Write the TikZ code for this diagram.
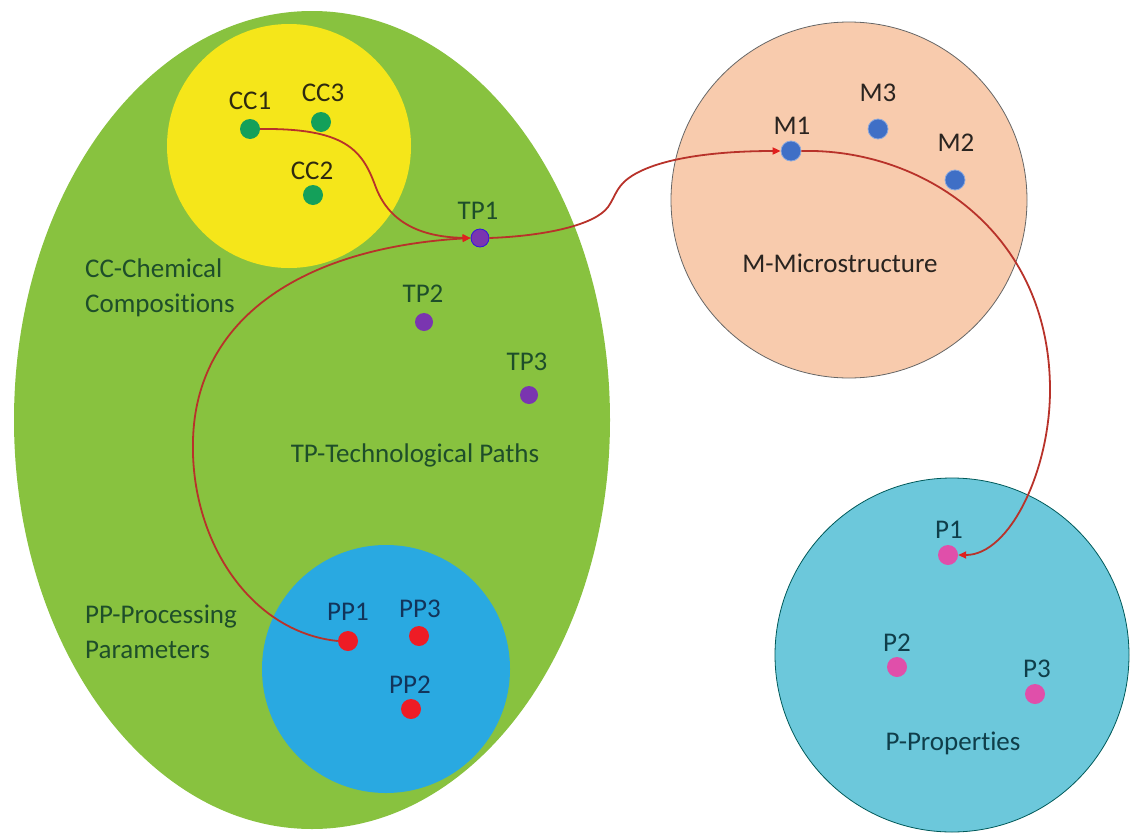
\documentclass[tikz,border=0pt]{standalone}
\usepackage{fontspec}
\setmainfont{Carlito}[Ligatures={NoCommon}]
\usetikzlibrary{shapes.geometric,arrows.meta}
\definecolor{setgreen}{HTML}{88C23F}
\definecolor{setyellow}{HTML}{F5E61A}
\definecolor{setsalmon}{HTML}{F8CBAD}
\definecolor{setblue}{HTML}{29A9E1}
\definecolor{setcyan}{HTML}{6CC8DB}
\definecolor{dotgreen}{HTML}{14A05A}
\definecolor{dotpurple}{HTML}{7A35B0}
\definecolor{dotblue}{HTML}{3F6FC6}
\definecolor{dotred}{HTML}{EE1C25}
\definecolor{dotpink}{HTML}{E04FAA}
\definecolor{txtgreen}{HTML}{1E4E2A}
\definecolor{txtyellow}{HTML}{2E2A10}
\definecolor{txtnavy}{HTML}{12345A}
\definecolor{txtbrown}{HTML}{2A2420}
\definecolor{txtteal}{HTML}{0F3E4A}
\definecolor{linkred}{HTML}{B8322A}
\definecolor{tipred}{HTML}{E0201E}
\begin{document}
\begin{tikzpicture}[x=1pt,y=-1pt,
  lbl/.style={font=\fontsize{27}{35}\selectfont, inner sep=0pt},
  setbox/.style={circle, inner sep=0pt, minimum size=#1},
  dotnode/.style={circle, inner sep=0pt, minimum size=20pt, fill=#1},
  link/.style={draw=linkred, line width=1.8pt, -{Triangle[length=8pt,width=7pt,color=tipred]}}
]
\useasboundingbox (0,0) rectangle (1130,838);
% sets
\node[ellipse, fill=setgreen, inner sep=0pt, minimum width=596pt, minimum height=818pt] (TPset) at (312,420) {};
\node[setbox=244pt, fill=setyellow] (CCset) at (289,146) {};
\node[setbox=248pt, fill=setblue] (PPset) at (386,669) {};
\node[setbox=356pt, fill=setsalmon, draw=black!60, line width=0.8pt] (Mset) at (849,200) {};
\node[setbox=354pt, fill=setcyan, draw=teal!70!black, line width=0.8pt] (Pset) at (952,655) {};
% set captions
\node[lbl, text=txtgreen, anchor=west, align=left] (CCcap) at (85,288) {CC-Chemical\\Compositions};
\node[lbl, text=txtgreen] (TPcap) at (415,455) {TP-Technological Paths};
\node[lbl, text=txtgreen, anchor=west, align=left] (PPcap) at (85,632) {PP-Processing\\Parameters};
\node[lbl, text=txtbrown] (Mcap) at (840,263) {M-Microstructure};
\node[lbl, text=txtteal] (Pcap) at (953,743) {P-Properties};
% CC elements
\node[dotnode=dotgreen] (CC1) at (250,129) {};
\node[dotnode=dotgreen] (CC3) at (321,122) {};
\node[dotnode=dotgreen] (CC2) at (313,195) {};
\node[lbl, text=txtyellow] (CC1t) at (250,101) {CC1};
\node[lbl, text=txtyellow] (CC3t) at (323,93) {CC3};
\node[lbl, text=txtyellow] (CC2t) at (312,171) {CC2};
% TP elements
\node[dotnode=dotpurple, minimum size=18pt, draw=blue!60!dotpurple, line width=0.8pt] (TP1) at (480,238) {};
\node[dotnode=dotpurple, minimum size=18pt] (TP2) at (424,322) {};
\node[dotnode=dotpurple, minimum size=18pt] (TP3) at (529,395) {};
\node[lbl, text=txtgreen] (TP1t) at (478,211) {TP1};
\node[lbl, text=txtgreen] (TP2t) at (423,294) {TP2};
\node[lbl, text=txtgreen] (TP3t) at (527,362) {TP3};
% PP elements
\node[dotnode=dotred] (PP1) at (348,641) {};
\node[dotnode=dotred] (PP3) at (419,636) {};
\node[dotnode=dotred] (PP2) at (411,709) {};
\node[lbl, text=txtnavy] (PP1t) at (348,612) {PP1};
\node[lbl, text=txtnavy] (PP3t) at (420,609) {PP3};
\node[lbl, text=txtnavy] (PP2t) at (410,685) {PP2};
% M elements
\node[dotnode=dotblue, draw=dotblue!60!white, line width=0.8pt] (M1) at (791,151) {};
\node[dotnode=dotblue, draw=dotblue!60!white, line width=0.8pt] (M3) at (878,129) {};
\node[dotnode=dotblue, draw=dotblue!60!white, line width=0.8pt] (M2) at (955,180) {};
\node[lbl, text=txtbrown] (M1t) at (792,126) {M1};
\node[lbl, text=txtbrown] (M3t) at (878,93) {M3};
\node[lbl, text=txtbrown] (M2t) at (956,143) {M2};
% P elements
\node[dotnode=dotpink] (P1) at (948,555) {};
\node[dotnode=dotpink] (P2) at (897,667) {};
\node[dotnode=dotpink] (P3) at (1035,694) {};
\node[lbl, text=txtteal] (P1t) at (949,530) {P1};
\node[lbl, text=txtteal] (P2t) at (897,643) {P2};
\node[lbl, text=txtteal] (P3t) at (1037,669) {P3};
% connectors
\draw[link] (CC1.east) .. controls (345,128) and (362,150) .. (375,185)
  .. controls (388,222) and (420,237) .. (TP1.west);
\draw[link] (PP1.west) .. controls (250,632) and (190,540) .. (193,440)
  .. controls (196,320) and (300,248) .. (TP1.west);
\draw[link] (TP1.east) .. controls (545,236) and (595,225) .. (608,207)
  .. controls (617,194) and (616,185) .. (635,174)
  .. controls (665,157) and (720,151) .. (M1.west);
\draw[link] (M1.east) .. controls (920,148) and (1050,230) .. (1050,390)
  .. controls (1050,470) and (1010,555) .. (P1.east);
\end{tikzpicture}
\end{document}
